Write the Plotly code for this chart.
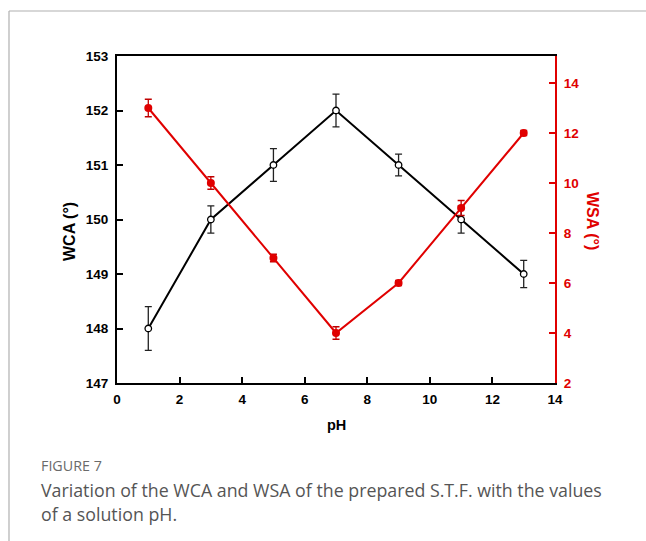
import plotly.graph_objects as go

# ---- data ----
ph = [1, 3, 5, 7, 9, 11, 13]
wca = [148, 150, 151, 152, 151, 150, 149]
wca_err = [0.4, 0.25, 0.3, 0.3, 0.2, 0.25, 0.25]
wsa = [13, 10, 7, 4, 6, 9, 12]
wsa_err = [0.35, 0.25, 0.15, 0.25, 0.1, 0.3, 0.1]

x_ticks = [0, 2, 4, 6, 8, 10, 12, 14]
wca_ticks = [147, 148, 149, 150, 151, 152, 153]
wsa_ticks = [2, 4, 6, 8, 10, 12, 14]

W, H = 646, 541
L, R, T, B = 117, 555, 56, 383  # plot area in pixels

RED = "#e00000"
DRED = "#c00000"
FONT = "Arial"

def px(x):
    return (x - L) / (R - L)

def py(y):
    return (B - y) / (B - T)

fig = go.Figure()
fig.add_trace(go.Scatter(
    x=ph, y=wca, mode="lines+markers",
    line=dict(color="black", width=2),
    marker=dict(symbol="circle", size=6.5, color="white", line=dict(color="black", width=1.3)),
    error_y=dict(type="data", array=wca_err, color="#222222", thickness=1.3, width=3.5),
    showlegend=False,
))
fig.add_trace(go.Scatter(
    x=ph, y=wsa, mode="lines+markers", yaxis="y2",
    line=dict(color=RED, width=2),
    marker=dict(symbol="circle", size=8, color=RED, line=dict(color=RED, width=0)),
    error_y=dict(type="data", array=wsa_err, color=DRED, thickness=1.3, width=3.5),
    showlegend=False,
))

tickfont_black = dict(family=FONT, size=13.5, color="black")
tickfont_red = dict(family=FONT, size=13.5, color=RED)

def ann(text, x, y, size, color, family=FONT, angle=0, xanchor="center"):
    return dict(text=text, xref="paper", yref="paper", x=px(x), y=py(y),
                xanchor=xanchor, yanchor="middle", align="left", textangle=angle,
                showarrow=False, font=dict(family=family, size=size, color=color))

fig.update_layout(
    width=W, height=H,
    margin=dict(l=L, r=W - R, t=T, b=H - B, pad=0),
    paper_bgcolor="white", plot_bgcolor="white",
    xaxis=dict(
        range=[0, 14], tickvals=x_ticks, ticktext=[f"<b>{v}</b>" for v in x_ticks],
        ticks="inside", ticklen=6, tickwidth=2, tickcolor="black",
        showline=True, linecolor="black", linewidth=2, mirror=True,
        showgrid=False, zeroline=False, tickfont=tickfont_black, ticklabelstandoff=3,
    ),
    yaxis=dict(
        range=[147, 153], tickvals=wca_ticks, ticktext=[f"<b>{v}</b>" for v in wca_ticks],
        ticks="inside", ticklen=6, tickwidth=2, tickcolor="black",
        showline=True, linecolor="black", linewidth=2,
        showgrid=False, zeroline=False, tickfont=tickfont_black, ticklabelstandoff=4,
    ),
    yaxis2=dict(
        range=[2, 15.08], tickvals=wsa_ticks, ticktext=[f"<b>{v}</b>" for v in wsa_ticks],
        overlaying="y", side="right",
        ticks="inside", ticklen=6, tickwidth=2, tickcolor=RED,
        showline=True, linecolor=RED, linewidth=2,
        showgrid=False, zeroline=False, tickfont=tickfont_red, ticklabelstandoff=4,
    ),
    shapes=[
        dict(type="line", xref="paper", yref="paper", x0=px(9), x1=px(W + 5), y0=py(11), y1=py(11),
             line=dict(color="#b0b0b0", width=1.2)),
        dict(type="line", xref="paper", yref="paper", x0=px(9), x1=px(9), y0=py(11), y1=py(H + 5),
             line=dict(color="#b0b0b0", width=1.2)),
    ],
    annotations=[
        ann("<b>WCA (°)</b>", 70, 232, 16, "black", angle=-90),
        ann("<b>WSA (°)</b>", 593, 221, 16, RED, angle=90),
        ann("<b>pH</b>", 336, 425, 14.5, "black"),
        ann("FIGURE 7", 39, 466, 14.3, "#6a6a6a", family="Open Sans", xanchor="left"),
        ann("Variation of the WCA and WSA of the prepared S.T.F. with the values", 39, 490, 17.8,
            "#555555", family="Open Sans", xanchor="left"),
        ann("of a solution pH.", 39, 514, 17.8, "#555555", family="Open Sans", xanchor="left"),
    ],
)

fig.write_html("out.html")
